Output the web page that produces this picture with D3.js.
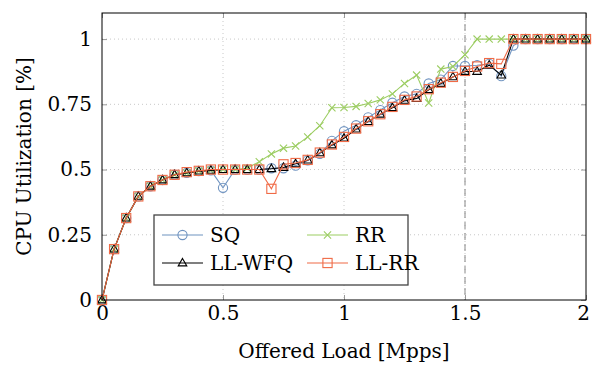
<!DOCTYPE html>
<html>
<head>
<meta charset="utf-8">
<script src="https://cdn.jsdelivr.net/npm/d3@7"></script>
<style>
  body { margin: 0; background: #fff; }
</style>
</head>
<body>
<svg id="chart" width="592" height="367"></svg>
<script>
// offered load, Mpps (0 .. 2 in steps of 0.05)
const load = [0, 0.05, 0.1, 0.15, 0.2, 0.25, 0.3, 0.35, 0.4, 0.45, 0.5, 0.55, 0.6, 0.65, 0.7, 0.75, 0.8,
    0.85, 0.9, 0.95, 1, 1.05, 1.1, 1.15, 1.2, 1.25, 1.3, 1.35, 1.4, 1.45, 1.5, 1.55, 1.6, 1.65, 1.7,
    1.75, 1.8, 1.85, 1.9, 1.95, 2];

const sq = [0, 0.195, 0.314, 0.397, 0.436, 0.46, 0.48, 0.487, 0.494, 0.497, 0.43, 0.5, 0.5, 0.5, 0.505, 0.505,
    0.515, 0.535, 0.56, 0.61, 0.647, 0.67, 0.7, 0.728, 0.756, 0.78, 0.79, 0.83, 0.845, 0.897, 0.897,
    0.9, 0.905, 0.858, 0.975, 1, 1, 1, 1, 1, 1];
const rr = [0, 0.195, 0.314, 0.397, 0.436, 0.46, 0.48, 0.487, 0.494, 0.497, 0.5, 0.5, 0.505, 0.53, 0.56, 0.582,
    0.59, 0.625, 0.668, 0.737, 0.738, 0.742, 0.753, 0.767, 0.79, 0.83, 0.862, 0.755, 0.885, 0.895, 0.94,
    1, 1, 1, 1, 1, 1, 1, 1, 1, 1];
const llwfq = [0, 0.195, 0.314, 0.397, 0.436, 0.46, 0.48, 0.487, 0.494, 0.497, 0.5, 0.5, 0.5, 0.5, 0.503, 0.508,
    0.522, 0.536, 0.564, 0.594, 0.62, 0.655, 0.684, 0.712, 0.737, 0.765, 0.772, 0.806, 0.83, 0.855, 0.876,
    0.876, 0.9, 0.862, 1, 1, 1, 1, 1, 1, 1];
const llrr = [0, 0.195, 0.314, 0.397, 0.436, 0.46, 0.48, 0.49, 0.495, 0.5, 0.5, 0.5, 0.5, 0.5, 0.426, 0.52,
    0.525, 0.537, 0.565, 0.596, 0.625, 0.657, 0.685, 0.712, 0.74, 0.767, 0.78, 0.808, 0.833, 0.855, 0.878,
    0.895, 0.908, 0.905, 1, 1, 1, 1, 1, 1, 1];

const xTicks = [0, 0.5, 1, 1.5, 2];
const yTicks = [0, 0.25, 0.5, 0.75, 1];
const marker = 1.5; // dashed reference line

const series = [
    { name: 'SQ', values: sq, color: '#6f93c0', shape: 'circle' },
    { name: 'RR', values: rr, color: '#9ccd62', shape: 'cross' },
    { name: 'LL-WFQ', values: llwfq, color: '#000000', shape: 'triangle' },
    { name: 'LL-RR', values: llrr, color: '#f06a46', shape: 'square' }
];

const serif = 'DejaVu Serif';
const margin = { top: 13, right: 6, bottom: 67, left: 102 };
const svg = d3.select('#chart');
const width = +svg.attr('width') - margin.left - margin.right;
const height = +svg.attr('height') - margin.top - margin.bottom;

const x = d3.scaleLinear().domain([0, 2]).range([0, width]);
const y = d3.scaleLinear().domain([0, 1.1]).range([height, 0]);

const g = svg.append('g').attr('transform', `translate(${margin.left},${margin.top})`);

// grid
g.append('g')
    .selectAll('line')
    .data(xTicks.slice(1, -1))
    .join('line')
    .attr('x1', d => x(d)).attr('x2', d => x(d))
    .attr('y1', 0).attr('y2', height)
    .attr('stroke', '#c8c8c8').attr('stroke-dasharray', '1,3');
g.append('g')
    .selectAll('line')
    .data(yTicks.slice(1))
    .join('line')
    .attr('x1', 0).attr('x2', width)
    .attr('y1', d => y(d)).attr('y2', d => y(d))
    .attr('stroke', '#c8c8c8').attr('stroke-dasharray', '1,3');

// dashed line at 1.5 Mpps
g.append('line')
    .attr('x1', x(marker)).attr('x2', x(marker))
    .attr('y1', 0).attr('y2', height)
    .attr('stroke', '#888').attr('stroke-width', 1)
    .attr('stroke-dasharray', '7,4');

// axes, ticks pointing inward on all four sides
const fmt = d => d3.format('~g')(d);
const styleAxis = (sel, showText) => {
    sel.attr('font-family', serif);
    sel.select('.domain').remove();
    sel.selectAll('.tick line').attr('stroke', '#999');
    sel.selectAll('.tick text')
        .attr('font-size', 20)
        .attr('fill', '#000')
        .style('display', showText ? null : 'none');
};
g.append('g').attr('transform', `translate(0,${height})`)
    .call(d3.axisBottom(x).tickValues(xTicks).tickFormat(fmt).tickSize(-5).tickPadding(6))
    .call(s => styleAxis(s, true))
    .call(s => s.selectAll('.tick text').filter(d => d === 2).attr('dx', -3));
g.append('g')
    .call(d3.axisTop(x).tickValues(xTicks).tickSize(-5))
    .call(s => styleAxis(s, false));
g.append('g')
    .call(d3.axisLeft(y).tickValues(yTicks).tickFormat(fmt).tickSize(-5).tickPadding(10))
    .call(s => styleAxis(s, true));
g.append('g').attr('transform', `translate(${width},0)`)
    .call(d3.axisRight(y).tickValues(yTicks).tickSize(-5))
    .call(s => styleAxis(s, false));

// markers
const drawMarker = (sel, shape, color) => {
    if (shape === 'circle') {
        sel.append('circle').attr('r', 4.6)
            .attr('fill', 'none').attr('stroke', color).attr('stroke-width', 1.1);
    } else if (shape === 'square') {
        sel.append('rect').attr('x', -4.6).attr('y', -4.6).attr('width', 9.2).attr('height', 9.2)
            .attr('fill', 'none').attr('stroke', color).attr('stroke-width', 1.1);
    } else if (shape === 'triangle') {
        sel.append('path').attr('d', 'M0,-4.6L4.3,2.9L-4.3,2.9Z')
            .attr('fill', 'none').attr('stroke', color).attr('stroke-width', 1.1);
    } else {
        sel.append('path').attr('d', 'M-3.6,-3.6L3.6,3.6M-3.6,3.6L3.6,-3.6')
            .attr('stroke', color).attr('stroke-width', 1.1);
    }
};

const line = d3.line().x(d => x(d[0])).y(d => y(d[1]));

series.forEach(s => {
    const pts = load.map((l, i) => [l, s.values[i]]);
    const sg = g.append('g');
    sg.append('path').datum(pts)
        .attr('d', line)
        .attr('fill', 'none').attr('stroke', s.color).attr('stroke-width', 1.1);
    sg.selectAll('g').data(pts).join('g')
        .attr('transform', d => `translate(${x(d[0])},${y(d[1])})`)
        .each(function () { drawMarker(d3.select(this), s.shape, s.color); });
});

// frame
g.append('rect').attr('width', width).attr('height', height)
    .attr('fill', 'none').attr('stroke', '#000').attr('stroke-width', 1);

// axis labels
svg.append('text')
    .attr('x', margin.left + width / 2).attr('y', 358)
    .attr('text-anchor', 'middle')
    .attr('font-family', serif).attr('font-size', 20)
    .text('Offered Load [Mpps]');
svg.append('text')
    .attr('transform', `translate(31,${margin.top + height / 2}) rotate(-90)`)
    .attr('text-anchor', 'middle')
    .attr('font-family', serif).attr('font-size', 20)
    .text('CPU Utilization [%]');

// legend (two columns)
const legend = svg.append('g').attr('transform', 'translate(154,215)');
legend.append('rect').attr('width', 254).attr('height', 70)
    .attr('fill', '#fff').attr('stroke', '#444').attr('stroke-width', 1.3);
series.forEach((s, i) => {
    const col = i % 2, row = Math.floor(i / 2);
    const item = legend.append('g')
        .attr('transform', `translate(${8 + col * 145},${20 + row * 28})`);
    item.append('line').attr('x1', 0).attr('x2', 41)
        .attr('stroke', s.color).attr('stroke-width', 1.1);
    const m = item.append('g').attr('transform', 'translate(20.5,0)');
    drawMarker(m, s.shape, s.color);
    item.append('text').attr('x', 48).attr('y', 0).attr('dy', '0.35em')
        .attr('font-family', serif).attr('font-size', 20)
        .text(s.name);
});
</script>
</body>
</html>
